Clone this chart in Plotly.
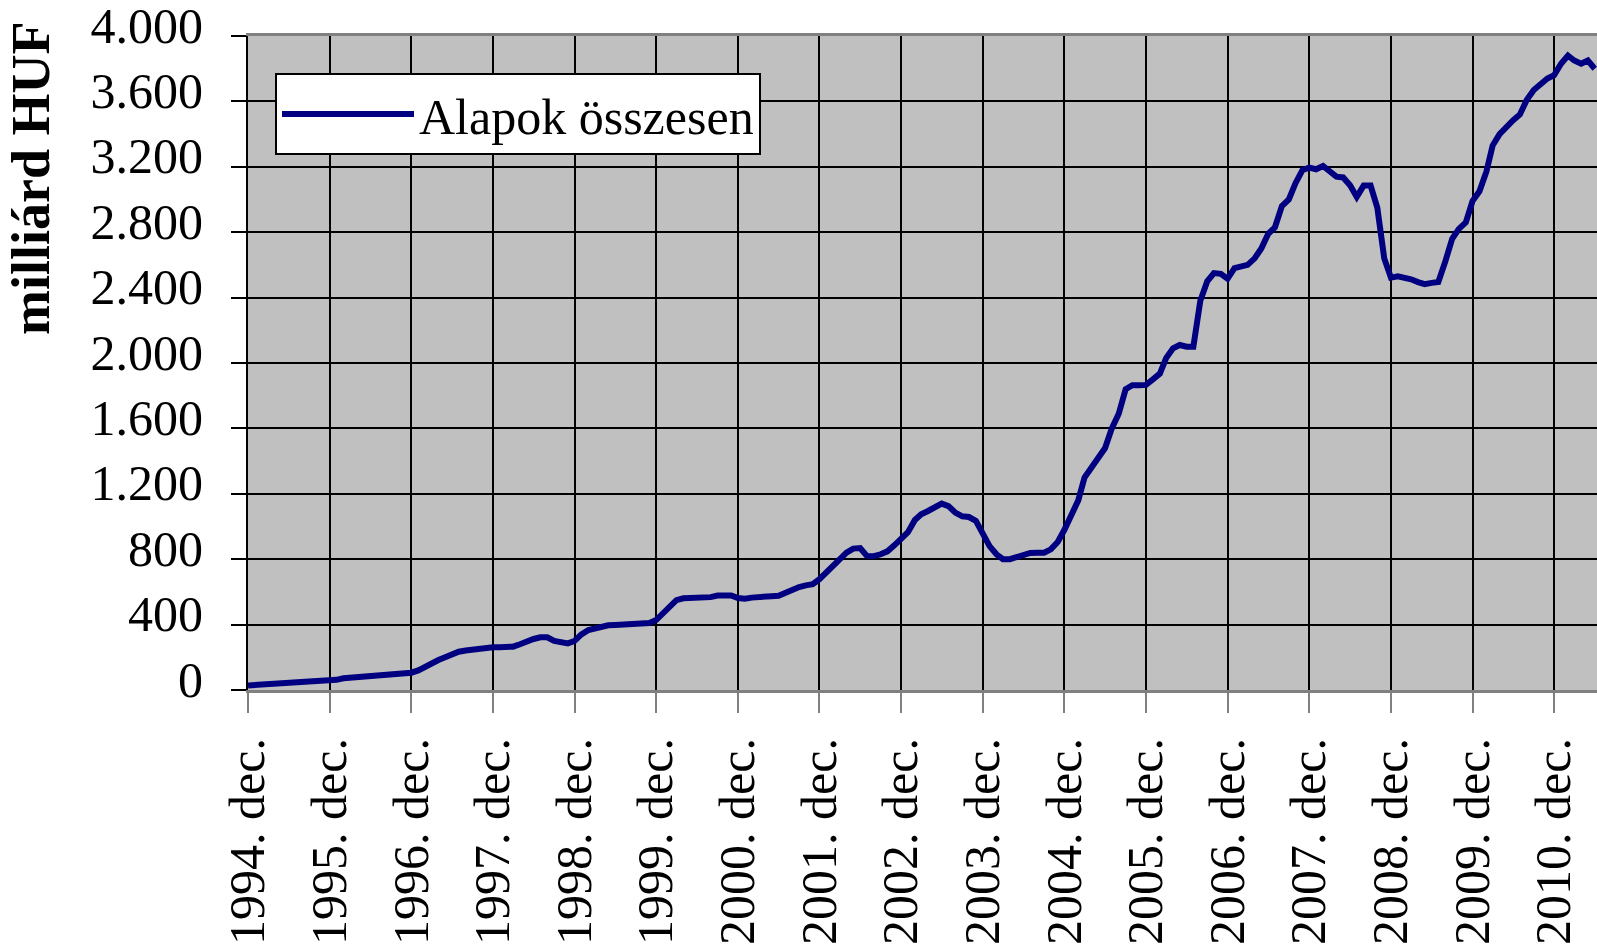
import pandas as pd
import plotly.graph_objects as go

# Monthly total assets of funds, billion HUF (Dec 1994 - Jun 2011)
months = pd.date_range("1994-12-01", periods=199, freq="MS").strftime("%Y-%m-%d").tolist()
alapok_osszesen = [
    28, 30, 32, 34, 36, 38, 40, 44, 50, 52, 53, 54,
    55, 62, 72, 75, 78, 82, 87, 90, 95, 100, 102, 104,
    106, 120, 145, 165, 183, 200, 218, 234, 242, 248, 253, 258,
    261, 262, 264, 265, 280, 298, 312, 322, 322, 300, 288, 285,
    300, 340, 367, 378, 390, 396, 398, 400, 401, 402, 404, 410,
    428, 470, 515, 550, 561, 561, 562, 562, 568, 578, 581, 578,
    562, 558, 565, 570, 572, 574, 576, 595, 606, 630, 640, 647,
    678, 720, 760, 805, 840, 865, 868, 820, 818, 830, 848, 885,
    928, 965, 1040, 1075, 1095, 1118, 1140, 1125, 1085, 1062, 1058, 1034,
    950, 880, 830, 800, 800, 815, 832, 838, 840, 840, 860, 905,
    980, 1070, 1160, 1300, 1360, 1410, 1480, 1600, 1690, 1840, 1864, 1864,
    1866, 1900, 1935, 2030, 2090, 2110, 2100, 2100, 2380, 2500, 2550, 2545,
    2515, 2580, 2595, 2600, 2640, 2700, 2790, 2830, 2960, 3000, 3100, 3180,
    3195, 3185, 3205, 3170, 3140, 3135, 3087, 3016, 3085, 3085, 2950, 2640,
    2522, 2530, 2525, 2512, 2495, 2482, 2490, 2495, 2620, 2760, 2820, 2860,
    2990, 3050, 3170, 3330, 3400, 3445, 3485, 3520, 3610, 3670, 3710, 3740,
    3760, 3830, 3880, 3850, 3830, 3850, 3800,
]

x_tick_vals = [f"{y}-12-01" for y in range(1994, 2011)]
x_tick_text = [f"{y}. dec." for y in range(1994, 2011)]
y_tick_vals = [0, 400, 800, 1200, 1600, 2000, 2400, 2800, 3200, 3600, 4000]
y_tick_text = ["0", "400", "800", "1.200", "1.600", "2.000", "2.400", "2.800",
               "3.200", "3.600", "4.000"]
series_name = "Alapok összesen"
y_title = "milliárd HUF"

FONT = "Liberation Serif, Times New Roman, serif"

fig = go.Figure()
fig.add_trace(go.Scatter(
    x=months, y=alapok_osszesen, mode="lines", name=series_name,
    line=dict(color="#000080", width=6),
))

fig.update_layout(
    width=1597, height=950,
    margin=dict(l=248, r=0, t=36, b=260, autoexpand=False),
    paper_bgcolor="white", plot_bgcolor="#C0C0C0",
    font=dict(family=FONT, size=50, color="black"),
    showlegend=True,
    legend=dict(
        x=(275 - 248) / 1349, y=(690 - 73) / 654, xanchor="left", yanchor="top",
        bgcolor="white", bordercolor="black", borderwidth=2,
        font=dict(family=FONT, size=50, color="black"),
        itemwidth=132,
    ),
    xaxis=dict(
        type="date", range=["1994-12-01", "2011-06-11"], automargin=False,
        tickmode="array", tickvals=x_tick_vals, ticktext=x_tick_text,
        tickangle=-90, ticks="outside", ticklen=20, tickwidth=2, tickcolor="#808080",
        showgrid=True, gridcolor="black", gridwidth=2,
        showline=True, linecolor="#808080", linewidth=3, mirror=True,
        tickfont=dict(family=FONT, size=50, color="black"),
        ticklabelstandoff=5, ticklabeloverflow="allow",
    ),
    yaxis=dict(
        range=[0, 4000], automargin=False,
        tickmode="array", tickvals=y_tick_vals, ticktext=y_tick_text,
        ticks="outside", ticklen=15, tickwidth=2, tickcolor="black",
        showgrid=True, gridcolor="black", gridwidth=2, zeroline=False,
        showline=True, linecolor="black", linewidth=2,
        tickfont=dict(family=FONT, size=50, color="black"),
        ticklabelstandoff=18, ticklabelshift=-11, ticklabeloverflow="allow",
    ),
    annotations=[dict(
        text=f"<b>{y_title}</b>", xref="paper", yref="paper",
        x=(31 - 248) / 1349, y=(690 - 179) / 654, xanchor="center", yanchor="middle",
        textangle=-90, showarrow=False,
        font=dict(family=FONT, size=54, color="black"),
    )],
)

# remove the browser's default 8px body margin so the figure fills the window exactly
fig.write_html(
    "out.html",
    config={"displayModeBar": False},
    post_script="document.body.style.margin='0';document.body.style.overflow='hidden';",
)
